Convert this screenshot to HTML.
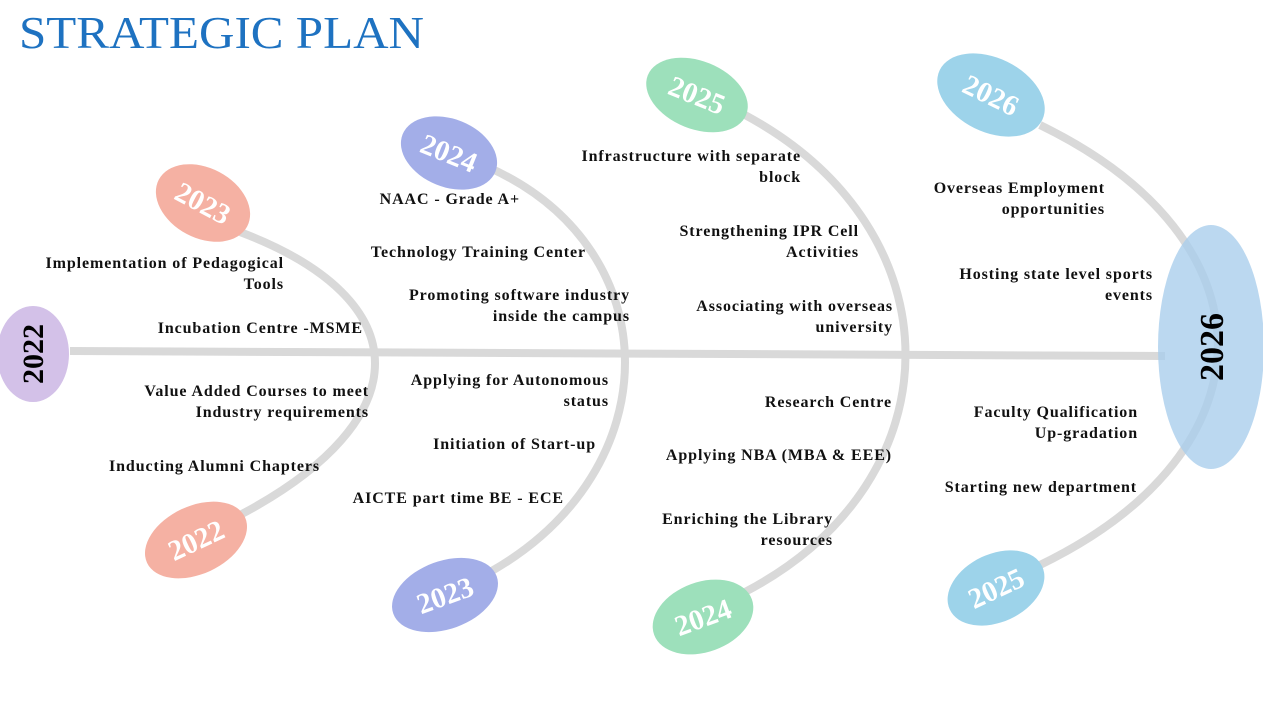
<!DOCTYPE html>
<html><head><meta charset="utf-8"><style>
html,body{margin:0;padding:0;background:#fff;}
svg{display:block;}
.t{font-family:"Liberation Serif",serif;font-weight:bold;font-size:16px;fill:#111;text-anchor:end;letter-spacing:0.9px;}
.y{font-family:"Liberation Serif",serif;font-weight:bold;font-size:29px;fill:#fff;text-anchor:middle;}
.yb{font-family:"Liberation Serif",serif;font-weight:bold;fill:#000;text-anchor:middle;}
</style></head><body>
<svg width="1263" height="711" viewBox="0 0 1263 711" xmlns="http://www.w3.org/2000/svg">
<text x="19" y="48" font-family="Liberation Serif, serif" font-size="46" fill="#1e72c1" textLength="405" lengthAdjust="spacingAndGlyphs">STRATEGIC PLAN</text>
<g fill="none" stroke="#d9d9d9" stroke-width="8">
<path d="M70 351 L1165 356"/>
<path d="M240 232 C420 300 420 420 240 515"/>
<path d="M490 168 C670 250 670 470 490 572"/>
<path d="M745 115 C959 230 959 480 745 592"/>
<path d="M1040 125 C1277 240 1277 450 1040 565"/>
</g>
<ellipse cx="33" cy="354" rx="36" ry="48" fill="#d3c1e8"/>
<text class="yb" font-size="30" transform="translate(43,354) rotate(-90)">2022</text>

<g transform="translate(203,203) rotate(28)"><ellipse rx="50" ry="35" fill="#f5b1a3"/><text class="y" y="10">2023</text></g>
<g transform="translate(196,540) rotate(-25)"><ellipse rx="54" ry="34" fill="#f5b1a3"/><text class="y" y="10">2022</text></g>
<g transform="translate(449,153) rotate(22)"><ellipse rx="50" ry="34" fill="#a3aee8"/><text class="y" y="10">2024</text></g>
<g transform="translate(445,595) rotate(-20)"><ellipse rx="55" ry="34" fill="#a3aee8"/><text class="y" y="10">2023</text></g>
<g transform="translate(697,95) rotate(22)"><ellipse rx="53" ry="34" fill="#9de0bb"/><text class="y" y="10">2025</text></g>
<g transform="translate(703,617) rotate(-20)"><ellipse rx="52" ry="35" fill="#9de0bb"/><text class="y" y="10">2024</text></g>
<g transform="translate(991,95) rotate(26)"><ellipse rx="57" ry="37" fill="#9dd3ea"/><text class="y" y="10">2026</text></g>
<g transform="translate(996,588) rotate(-25)"><ellipse rx="51" ry="34" fill="#9dd3ea"/><text class="y" y="10">2025</text></g>

<ellipse cx="1211" cy="347" rx="53" ry="122" fill="#a8cdec" fill-opacity="0.78"/>
<text class="yb" font-size="34" transform="translate(1223,347) rotate(-90)">2026</text>

<text class="t" x="284" y="268">Implementation of  Pedagogical</text>
<text class="t" x="284" y="289">Tools</text>
<text class="t" x="363" y="333">Incubation Centre -MSME</text>
<text class="t" x="369" y="396">Value Added Courses to meet</text>
<text class="t" x="369" y="417">Industry requirements</text>
<text class="t" x="320" y="471">Inducting Alumni Chapters</text>

<text class="t" x="520" y="204">NAAC - Grade A+</text>
<text class="t" x="586" y="257">Technology Training Center</text>
<text class="t" x="630" y="300">Promoting software industry</text>
<text class="t" x="630" y="321">inside the campus</text>
<text class="t" x="609" y="385">Applying for Autonomous</text>
<text class="t" x="609" y="406">status</text>
<text class="t" x="596" y="449">Initiation of Start-up</text>
<text class="t" x="564" y="503">AICTE part time BE - ECE</text>

<text class="t" x="801" y="161">Infrastructure with separate</text>
<text class="t" x="801" y="182">block</text>
<text class="t" x="859" y="236">Strengthening IPR Cell</text>
<text class="t" x="859" y="257">Activities</text>
<text class="t" x="893" y="311">Associating with overseas</text>
<text class="t" x="893" y="332">university</text>
<text class="t" x="892" y="407">Research Centre</text>
<text class="t" x="892" y="460">Applying NBA (MBA &amp; EEE)</text>
<text class="t" x="833" y="524">Enriching the Library</text>
<text class="t" x="833" y="545">resources</text>

<text class="t" x="1105" y="193">Overseas Employment</text>
<text class="t" x="1105" y="214">opportunities</text>
<text class="t" x="1153" y="279">Hosting state level sports</text>
<text class="t" x="1153" y="300">events</text>
<text class="t" x="1138" y="417">Faculty Qualification</text>
<text class="t" x="1138" y="438">Up-gradation</text>
<text class="t" x="1137" y="492">Starting new department</text>
</svg>
</body></html>
